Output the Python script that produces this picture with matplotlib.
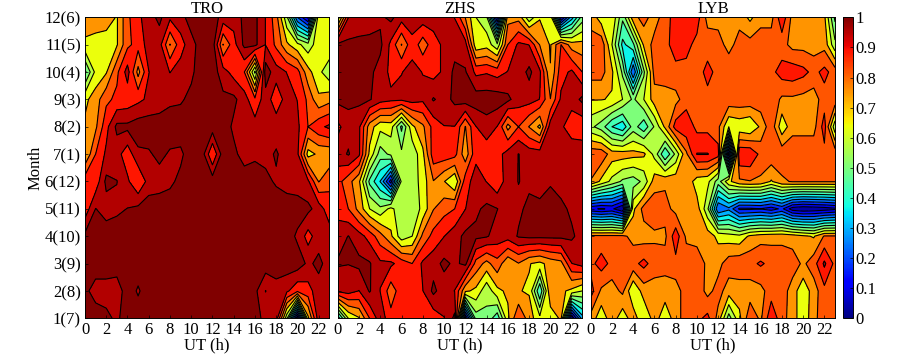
import numpy as np
import matplotlib
matplotlib.use("Agg")
import matplotlib.pyplot as plt
from matplotlib.cm import ScalarMappable
from matplotlib.colors import Normalize

plt.rcParams['font.family'] = ['Liberation Serif', 'DejaVu Serif']

hours = list(range(24))
months = list(range(1, 13))
month_labels = ['1(7)', '2(8)', '3(9)', '4(10)', '5(11)', '6(12)', '7(1)', '8(2)', '9(3)', '10(4)', '11(5)', '12(6)']
hour_ticks = list(range(0, 24, 2))
cbar_ticks = [0, 0.1, 0.2, 0.3, 0.4, 0.5, 0.6, 0.7, 0.8, 0.9, 1]
cbar_labels = ['0', '0.1', '0.2', '0.3', '0.4', '0.5', '0.6', '0.7', '0.8', '0.9', '1']

# rows listed from month 12 (top) down to month 1 (bottom)
tro = [
 [.71,.73,.71,.66,.785,.85,.905,.95,.88,.905,.97,.97,.97,.905,.895,.95,.95,.865,.76,.55,.20,.05,.66,.66],
 [.65,.62,.62,.66,.785,.825,.895,.895,.73,.84,.905,.97,.97,.73,.84,.95,.95,.865,.785,.68,.62,.56,.64,.66],
 [.45,.62,.66,.785,.895,.71,.865,.905,.865,.895,.92,.97,.97,.895,.84,.80,.52,.97,.895,.865,.825,.69,.62,.55],
 [.65,.70,.785,.815,.825,.85,.88,.895,.92,.925,.95,.97,.97,.95,.95,.895,.815,.905,.825,.895,.865,.785,.68,.71],
 [.68,.72,.845,.95,.95,.97,.97,.97,.97,.97,.97,.97,.97,.97,.92,.905,.895,.895,.905,.895,.88,.80,.85,.88],
 [.67,.80,.88,.895,.825,.92,.925,.95,.925,.92,.97,.97,.80,.97,.95,.905,.92,.915,.94,.905,.88,.64,.68,.68],
 [.84,.825,.95,.935,.88,.80,.895,.905,.92,.95,.97,.97,.97,.97,.97,.97,.97,.95,.925,.905,.895,.88,.73,.785],
 [.825,.935,.905,.92,.935,.95,.97,.97,.97,.97,.97,.97,.97,.97,.97,.97,.97,.97,.97,.97,.97,.95,.905,.825],
 [.95,.97,.97,.97,.97,.97,.97,.97,.97,.97,.97,.97,.97,.97,.97,.97,.97,.97,.97,.97,.92,.84,.905,.905],
 [.95,.97,.97,.97,.97,.97,.97,.97,.97,.97,.97,.97,.97,.97,.97,.97,.97,.97,.97,.97,.97,.92,.95,.905],
 [.95,.905,.905,.895,.97,.925,.97,.97,.97,.97,.97,.97,.97,.97,.97,.97,.95,.865,.905,.88,.815,.84,.905,.92],
 [.97,.97,.95,.92,.97,.97,.97,.97,.97,.97,.97,.97,.97,.97,.97,.97,.97,.905,.905,.55,.0,.65,.905,.905],
]
zhs = [
 [.55,.865,.895,.905,.92,.95,.895,.895,.905,.895,.905,.865,.73,.60,.55,.05,.71,.71,.55,.66,.66,.05,.30,.50],
 [.95,.95,.95,.95,.95,.85,.73,.85,.76,.84,.88,.905,.895,.62,.64,.55,.80,.88,.865,.73,.66,.80,.70,.69],
 [.95,.95,.95,.95,.905,.85,.865,.88,.865,.84,.88,.95,.94,.85,.86,.84,.87,.895,.95,.88,.67,.84,.88,.80],
 [.95,.95,.95,.94,.895,.88,.88,.895,.88,.94,.905,.95,.97,.97,.97,.97,.95,.895,.895,.865,.735,.88,.895,.95],
 [.85,.905,.88,.70,.62,.63,.45,.65,.72,.825,.865,.865,.73,.865,.905,.865,.71,.80,.73,.65,.905,.88,.825,.815],
 [.90,.94,.88,.65,.50,.55,.55,.55,.65,.84,.84,.825,.69,.85,.825,.84,.895,.935,.905,.905,.905,.905,.92,.92],
 [.825,.76,.68,.45,.33,.10,.55,.56,.63,.73,.67,.60,.84,.895,.865,.815,.905,.935,.92,.905,.925,.905,.905,.905],
 [.84,.80,.71,.60,.55,.62,.55,.55,.62,.73,.775,.80,.865,.92,.95,.935,.905,.92,.95,.95,.97,.95,.92,.895],
 [.905,.935,.895,.84,.76,.68,.56,.60,.75,.825,.865,.905,.95,.95,.94,.905,.895,.94,.95,.95,.95,.95,.945,.905],
 [.94,.935,.95,.94,.88,.88,.84,.80,.88,.905,.95,.92,.95,.775,.71,.775,.68,.73,.67,.65,.69,.71,.865,.895],
 [.88,.895,.865,.94,.865,.76,.84,.815,.865,.95,.895,.865,.68,.65,.55,.65,.68,.67,.66,.40,.73,.68,.65,.60],
 [.35,.60,.66,.80,.905,.825,.825,.825,.865,.825,.865,.95,.05,.50,.52,.42,.65,.80,.70,.62,.62,.68,.0,.30],
]
lyb = [
 [.71,.63,.66,.48,.71,.76,.70,.77,.83,.83,.83,.71,.71,.71,.71,.65,.71,.71,.85,.71,.71,.71,.68,.45],
 [.76,.78,.60,.38,.45,.68,.76,.78,.83,.82,.78,.77,.76,.71,.76,.76,.77,.77,.76,.71,.71,.70,.71,.55],
 [.76,.76,.68,.52,.20,.52,.76,.77,.78,.78,.77,.82,.78,.78,.78,.78,.78,.78,.83,.84,.82,.78,.82,.77],
 [.67,.67,.66,.60,.52,.60,.70,.70,.71,.77,.78,.78,.78,.78,.78,.78,.78,.78,.72,.72,.71,.70,.77,.78],
 [.55,.50,.40,.35,.50,.42,.54,.68,.83,.85,.78,.78,.75,.60,.62,.60,.68,.78,.62,.71,.71,.71,.83,.55],
 [.78,.78,.70,.70,.69,.68,.58,.40,.55,.72,.87,.87,.83,.02,.86,.86,.78,.78,.78,.78,.78,.78,.78,.78],
 [.73,.65,.58,.52,.50,.55,.70,.72,.71,.72,.63,.62,.50,.65,.72,.73,.72,.66,.72,.74,.74,.74,.74,.74],
 [.08,.06,.08,.0,.65,.76,.78,.76,.71,.72,.70,.55,.20,.25,.12,.12,.13,.10,.15,.03,.01,.02,.03,.05],
 [.75,.75,.75,.75,.71,.70,.72,.72,.84,.72,.71,.70,.65,.63,.62,.68,.70,.71,.71,.70,.68,.66,.74,.74],
 [.78,.83,.78,.77,.78,.82,.77,.76,.78,.77,.77,.72,.71,.77,.78,.78,.81,.78,.78,.77,.72,.77,.88,.78],
 [.83,.72,.70,.75,.60,.70,.70,.70,.70,.77,.78,.71,.76,.70,.70,.70,.71,.77,.77,.70,.62,.70,.78,.78],
 [.71,.62,.71,.62,.71,.60,.70,.62,.70,.77,.78,.82,.71,.50,.65,.78,.72,.85,.76,.70,.62,.71,.78,.78],
]
panels = [('TRO', tro), ('ZHS', zhs), ('LYB', lyb)]

W, H = 900.0, 362.0
boxes = [(85.0, 329.3), (337.7, 582.3), (590.7, 835.0)]
top, bottom = 17.3, 318.3
levels = np.linspace(0, 1, 16)
jet = plt.get_cmap('jet')
band_colors = []
for lo, hi in zip(levels[:-1], levels[1:]):
    band_colors.append(jet(min(1.0, hi + 0.02)) if hi > 0.7 else jet((lo + hi) / 2))
norm = Normalize(0, 1)
fs = 12

fig = plt.figure(figsize=(9.0, 3.62), dpi=100)
for i, ((name, rows), (x0, x1)) in enumerate(zip(panels, boxes)):
    ax = fig.add_axes([x0 / W, 1 - bottom / H, (x1 - x0) / W, (bottom - top) / H])
    z = np.array(rows)[::-1]
    ax.contourf(hours, months, z, levels=levels, colors=band_colors)
    ax.contour(hours, months, z, levels=levels, colors='k', linewidths=0.8, linestyles='solid')
    ax.set_xlim(0, 23)
    ax.set_ylim(1, 12)
    ax.set_xticks(hour_ticks)
    ax.set_xticklabels([str(h) for h in hour_ticks], fontsize=fs)
    ax.set_yticks(months)
    if i == 0:
        ax.set_yticklabels(month_labels, fontsize=fs)
        ax.set_ylabel('Month', fontsize=fs, labelpad=1)
    else:
        ax.set_yticklabels([])
    ax.tick_params(direction='in', length=2, width=0.5, pad=3, top=False, right=False)
    for s in ax.spines.values():
        s.set_linewidth(0.7)
    ax.set_xlabel('UT (h)', fontsize=fs, labelpad=-1)
    ax.set_title(name, fontsize=fs, pad=1.5)

cax = fig.add_axes([843.3 / W, 1 - bottom / H, 9.4 / W, (bottom - top) / H])
cb = fig.colorbar(ScalarMappable(norm=norm, cmap='jet'), cax=cax, ticks=cbar_ticks)
cb.ax.set_yticklabels(cbar_labels, fontsize=fs)
cb.ax.tick_params(direction='in', length=2, width=0.5, pad=2)
cb.outline.set_linewidth(0.7)

fig.savefig('out.png', dpi=100)
